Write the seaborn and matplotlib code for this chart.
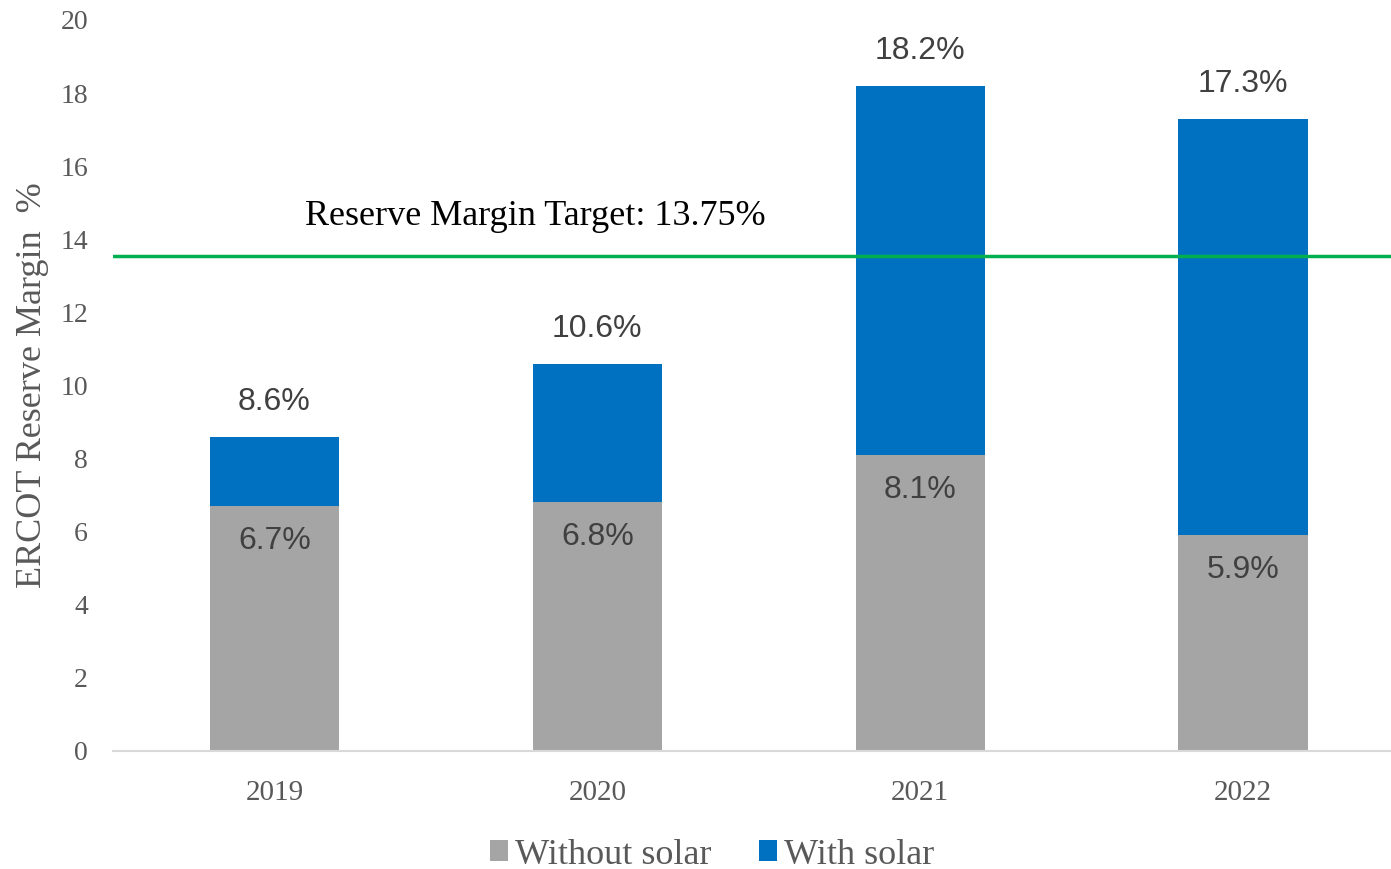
import matplotlib
matplotlib.use("Agg")
import matplotlib.pyplot as plt
from matplotlib.patches import Patch
import seaborn as sns
import pandas as pd

years = ["2019", "2020", "2021", "2022"]
without_solar = [6.7, 6.8, 8.1, 5.9]
with_solar_total = [8.6, 10.6, 18.2, 17.3]
target_line = 13.55
target_label = "Reserve Margin Target: 13.75%"
y_ticks = [0, 2, 4, 6, 8, 10, 12, 14, 16, 18, 20]

GRAY = "#A5A5A5"
BLUE = "#0070C0"
GREEN = "#00B050"
TICK = "#595959"
LABEL = "#404040"
SERIF = "Liberation Serif"
SANS = "Liberation Sans"

sns.set_style("white")

df = pd.DataFrame({"year": years, "without": without_solar, "total": with_solar_total})

fig = plt.figure(figsize=(13.91, 8.69), dpi=100)
ax = fig.add_axes([0.0812, 0.1358, 0.9285, 0.8412])

sns.barplot(data=df, x="year", y="total", color=BLUE, width=0.4, saturation=1, linewidth=0, ax=ax)
sns.barplot(data=df, x="year", y="without", color=GRAY, width=0.4, saturation=1, linewidth=0, ax=ax)

ax.set_xlim(-0.5, 3.5)
ax.set_ylim(0, 20)
ax.set_yticks(y_ticks)
ax.set_yticklabels([str(t) for t in y_ticks], fontfamily=SERIF, fontsize=20, color=TICK)
ax.set_xticks(range(len(years)))
ax.set_xticklabels(years, fontfamily=SERIF, fontsize=21, color=TICK)
ax.tick_params(axis="both", length=0)
ax.tick_params(axis="x", pad=21)
ax.tick_params(axis="y", pad=18)
ax.set_xlabel("")
ax.set_ylabel("ERCOT Reserve Margin  %", fontfamily=SERIF, fontsize=26, color=TICK, labelpad=8)

for s in ["top", "right", "left"]:
    ax.spines[s].set_visible(False)
ax.spines["bottom"].set_color("#D9D9D9")
ax.spines["bottom"].set_linewidth(1.5)

ax.axhline(target_line, color=GREEN, lw=2.5, zorder=3)
ax.text(0.094, 14.62, target_label, fontfamily=SERIF, fontsize=26, color="black",
        ha="left", va="center")

for i, (w, t) in enumerate(zip(without_solar, with_solar_total)):
    ax.text(i, w - 0.95, f"{w}%", ha="center", va="center", fontfamily=SANS, fontsize=23, color=LABEL)
    ax.text(i, t + 0.95, f"{t}%", ha="center", va="center", fontfamily=SANS, fontsize=23, color=LABEL)

handles = [Patch(facecolor=GRAY, edgecolor="none", label="Without solar"),
           Patch(facecolor=BLUE, edgecolor="none", label="With solar")]
leg = fig.legend(handles=handles, loc="center", bbox_to_anchor=(0.512, 0.016), ncol=2, frameon=False,
                 prop={"family": SERIF, "size": 26}, handlelength=0.5, handleheight=0.5,
                 handletextpad=0.2, columnspacing=1.3)
for txt in leg.get_texts():
    txt.set_color(TICK)

fig.savefig("out.png", dpi=100)
